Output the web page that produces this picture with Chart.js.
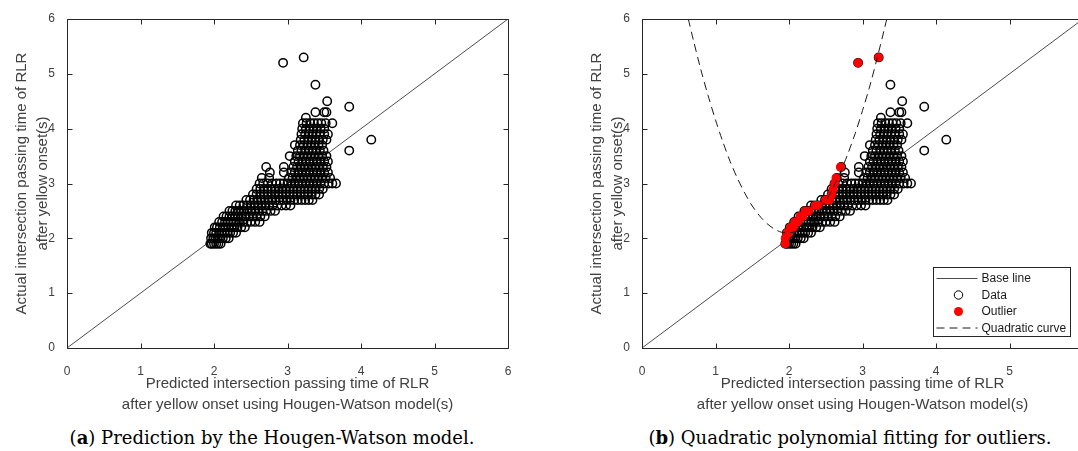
<!DOCTYPE html>
<html>
<head>
<meta charset="utf-8">
<script src="https://cdn.jsdelivr.net/npm/chart.js@4.4.0/dist/chart.umd.min.js"></script>
<style>
  html, body { margin: 0; padding: 0; background: #fff; }
  body { width: 1078px; height: 451px; position: relative; overflow: hidden; }
  .panel { position: absolute; top: 0; width: 540px; height: 420px; }
  .caption {
    position: absolute; top: 427px; line-height: 21px;
    font-family: 'DejaVu Serif', serif; font-size: 18px; color: #000;
    white-space: nowrap; transform: translateX(-50%);
  }
</style>
</head>
<body>
<div class="panel" style="left:0"><canvas id="chartA"></canvas></div>
<div class="panel" style="left:575px"><canvas id="chartB"></canvas></div>
<div class="caption" style="left:272px">(<b>a</b>) Prediction by the Hougen-Watson model.</div>
<div class="caption" style="left:850px">(<b>b</b>) Quadratic polynomial fitting for outliers.</div>
<script>
// observed (actual) passing times come in 0.1 s steps, one row per value
const rowY = [1.9, 2.0, 2.1, 2.2, 2.3, 2.4, 2.5, 2.6, 2.7, 2.8, 2.9, 3.0, 3.1, 3.2, 3.3,
              3.4, 3.5, 3.6, 3.7, 3.8, 3.9, 4.0, 4.1, 4.2, 4.3, 4.4, 4.5, 4.8, 5.2, 5.3];
// predicted times for each row
const rowX = [
  [1.95, 1.97, 2.0, 2.03, 2.06, 2.09],
  [1.96, 1.99, 2.02, 2.05, 2.08, 2.12, 2.16, 2.2],
  [1.97, 2.0, 2.03, 2.07, 2.1, 2.14, 2.18, 2.22, 2.26, 2.3],
  [2.01, 2.04, 2.08, 2.12, 2.16, 2.2, 2.24, 2.28, 2.32, 2.37, 2.42],
  [2.07, 2.11, 2.15, 2.19, 2.23, 2.27, 2.31, 2.35, 2.4, 2.45, 2.5, 2.56, 2.62],
  [2.13, 2.17, 2.21, 2.25, 2.29, 2.33, 2.38, 2.43, 2.48, 2.53, 2.58, 2.63, 2.69],
  [2.21, 2.25, 2.29, 2.33, 2.37, 2.41, 2.46, 2.51, 2.56, 2.61, 2.66, 2.71, 2.77, 2.83],
  [2.3, 2.35, 2.4, 2.45, 2.5, 2.55, 2.6, 2.65, 2.7, 2.75, 2.8, 2.86, 2.92, 2.98, 3.04],
  [2.44, 2.49, 2.54, 2.59, 2.64, 2.69, 2.74, 2.79, 2.84, 2.89, 2.94, 2.99, 3.04, 3.09, 3.14, 3.19, 3.24, 3.29, 3.34],
  [2.53, 2.58, 2.63, 2.68, 2.73, 2.78, 2.83, 2.88, 2.93, 2.98, 3.03, 3.08, 3.13, 3.18, 3.23, 3.28, 3.33, 3.38, 3.43],
  [2.58, 2.63, 2.68, 2.73, 2.78, 2.83, 2.88, 2.93, 2.98, 3.03, 3.08, 3.13, 3.18, 3.23, 3.28, 3.33, 3.38, 3.43, 3.48],
  [2.62, 2.67, 2.73, 2.79, 2.85, 2.9, 2.95, 3.0, 3.05, 3.1, 3.15, 3.2, 3.25, 3.3, 3.35, 3.4, 3.45, 3.5, 3.56, 3.61, 3.66],
  [2.65, 2.75, 3.02, 3.07, 3.12, 3.17, 3.22, 3.27, 3.32, 3.37, 3.42, 3.47, 3.52, 3.58],
  [2.76, 2.95, 3.05, 3.1, 3.15, 3.2, 3.25, 3.3, 3.35, 3.4, 3.45, 3.5, 3.55],
  [2.71, 2.95, 3.08, 3.13, 3.18, 3.23, 3.28, 3.33, 3.38, 3.43, 3.48, 3.53],
  [3.1, 3.15, 3.2, 3.25, 3.3, 3.35, 3.4, 3.45, 3.5, 3.55],
  [3.03, 3.12, 3.17, 3.22, 3.27, 3.32, 3.37, 3.42, 3.47, 3.53],
  [3.14, 3.19, 3.24, 3.29, 3.34, 3.39, 3.44, 3.49, 3.84],
  [3.1, 3.17, 3.22, 3.27, 3.32, 3.37, 3.42, 3.47],
  [3.18, 3.23, 3.28, 3.33, 3.38, 3.43, 3.48, 3.53, 4.14],
  [3.19, 3.24, 3.29, 3.34, 3.39, 3.44, 3.5, 3.55],
  [3.2, 3.25, 3.3, 3.35, 3.4, 3.45, 3.5],
  [3.21, 3.26, 3.31, 3.36, 3.41, 3.46, 3.52, 3.61],
  [3.25],
  [3.38, 3.5, 3.53],
  [3.84],
  [3.54],
  [3.38],
  [2.94],
  [3.22]
];

// outliers picked out in panel (b)
const outlierX = [1.95, 1.95, 1.97, 2.0, 2.02, 2.06, 2.08, 2.12, 2.15, 2.19, 2.22, 2.27,
                  2.36, 2.4, 2.5, 2.55, 2.58, 2.6, 2.62, 2.64, 2.7, 2.94, 3.22];
const outlierY = [1.9, 2.0, 2.1, 2.1, 2.2, 2.2, 2.3, 2.3, 2.4, 2.4, 2.5, 2.5,
                  2.6, 2.6, 2.7, 2.7, 2.8, 2.9, 3.0, 3.1, 3.3, 5.2, 5.3];

// quadratic curve
const curveX = [0.63, 0.7, 0.8, 0.9, 1.0, 1.1, 1.2, 1.3, 1.4, 1.5, 1.6, 1.7, 1.8, 1.9, 2.0,
                2.1, 2.2, 2.3, 2.4, 2.5, 2.6, 2.7, 2.8, 2.9, 3.0, 3.1, 3.2, 3.3, 3.33];
const curveY = [6.0, 5.61, 5.08, 4.6, 4.16, 3.76, 3.4, 3.09, 2.82, 2.59, 2.41, 2.27, 2.17, 2.11, 2.1,
                2.13, 2.2, 2.32, 2.48, 2.68, 2.92, 3.21, 3.54, 3.91, 4.33, 4.78, 5.29, 5.83, 6.0];

const baseX = [0, 6];
const baseY = [0, 6];
const axisTicks = [0, 1, 2, 3, 4, 5, 6];

const toPoints = (xs, ys) => xs.map((x, i) => ({ x: x, y: ys[i] }));
const dataPoints = rowY.flatMap((y, i) => rowX[i].map(x => ({ x: x, y: y })));

const sans = 'Liberation Sans, Arial, sans-serif';
const textGray = '#404040';

// box with inward ticks on all four sides, like a matlab axes
const framePlugin = {
    id: 'frame',
    afterDraw(chart) {
        const { ctx, chartArea: a, scales } = chart;
        const l = Math.round(a.left) + 0.5, r = Math.round(a.right) + 0.5;
        const t = Math.round(a.top) + 0.5, b = Math.round(a.bottom) + 0.5;
        ctx.save();
        ctx.strokeStyle = '#262626';
        ctx.lineWidth = 1;
        ctx.beginPath();
        ctx.rect(l, t, r - l, b - t);
        scales.x.ticks.forEach(tk => {
            const px = Math.round(scales.x.getPixelForValue(tk.value)) + 0.5;
            ctx.moveTo(px, b); ctx.lineTo(px, b - 5);
            ctx.moveTo(px, t); ctx.lineTo(px, t + 5);
        });
        scales.y.ticks.forEach(tk => {
            const py = Math.round(scales.y.getPixelForValue(tk.value)) + 0.5;
            ctx.moveTo(l, py); ctx.lineTo(l + 5, py);
            ctx.moveTo(r, py); ctx.lineTo(r - 5, py);
        });
        ctx.stroke();
        ctx.restore();
    }
};

// legend box in the lower right of panel (b)
const boxLegendPlugin = {
    id: 'boxLegend',
    afterDraw(chart) {
        const { ctx, chartArea: a } = chart;
        const left = Math.round(a.left) + 291.5, top = Math.round(a.top) + 248.5;
        const w = 137, h = 69;
        const rows = [11, 27.5, 44, 60.5];
        ctx.save();
        ctx.fillStyle = '#fff';
        ctx.fillRect(left, top, w, h);
        ctx.strokeStyle = '#262626';
        ctx.lineWidth = 1;
        ctx.strokeRect(left, top, w, h);
        ctx.font = '12px ' + sans;
        ctx.textBaseline = 'middle';
        chart.data.datasets.forEach((ds, i) => {
            const y = top + rows[i];
            ctx.setLineDash([]);
            if (ds.showLine) {
                ctx.strokeStyle = ds.borderColor;
                ctx.lineWidth = 1;
                ctx.setLineDash(ds.borderDash || []);
                ctx.beginPath();
                ctx.moveTo(left + 3, y);
                ctx.lineTo(left + 44, y);
                ctx.stroke();
            } else {
                ctx.beginPath();
                ctx.arc(left + 25, y, ds.pointRadius, 0, Math.PI * 2);
                ctx.fillStyle = ds.pointBackgroundColor;
                ctx.fill();
                if (ds.pointBorderWidth) {
                    ctx.strokeStyle = ds.pointBorderColor;
                    ctx.lineWidth = 1;
                    ctx.stroke();
                }
            }
            ctx.fillStyle = '#1a1a1a';
            ctx.fillText(ds.label, left + 48, y + 0.5);
        });
        ctx.restore();
    }
};

function baseLineDataset() {
    return {
        label: 'Base line',
        data: toPoints(baseX, baseY),
        showLine: true,
        borderColor: '#4d4d4d',
        borderWidth: 1,
        pointRadius: 0,
        order: 4
    };
}

function dataDataset() {
    return {
        label: 'Data',
        data: dataPoints,
        showLine: false,
        pointStyle: 'circle',
        pointRadius: 4.2,
        pointBorderWidth: 1.5,
        pointBackgroundColor: 'rgba(0,0,0,0)',
        pointBorderColor: '#000',
        order: 3
    };
}

function scaleOptions(titleLines, isX) {
    return {
        type: 'linear',
        min: 0,
        max: 6,
        afterBuildTicks: scale => { scale.ticks = axisTicks.map(v => ({ value: v })); },
        grid: { display: false },
        border: { display: false },
        ticks: {
            color: textGray,
            padding: isX ? 8 : 4,
            font: { family: sans, size: 12 }
        },
        title: {
            display: true,
            text: titleLines,
            color: textGray,
            font: { family: sans, size: 15, lineHeight: 1.4 },
            padding: isX ? { top: 0, bottom: 5 } : { top: 11.5, bottom: 0 }
        },
        afterFit: scale => {
            if (isX) scale.height = 72; else scale.width = 67;
        }
    };
}

function makeChart(id, datasets, plugins) {
    return new Chart(document.getElementById(id), {
        type: 'scatter',
        data: { datasets: datasets },
        options: {
            responsive: true,
            maintainAspectRatio: false,
            animation: false,
            events: [],
            layout: { padding: { left: 0, right: 32, top: 19, bottom: 0 } },
            plugins: { legend: { display: false }, tooltip: { enabled: false } },
            scales: {
                x: scaleOptions(['Predicted intersection passing time of RLR',
                                 'after yellow onset using Hougen-Watson model(s)'], true),
                y: scaleOptions(['Actual intersection passing time of RLR',
                                 'after yellow onset(s)'], false)
            }
        },
        plugins: plugins
    });
}

makeChart('chartA', [baseLineDataset(), dataDataset()], [framePlugin]);

makeChart('chartB', [
    baseLineDataset(),
    dataDataset(),
    {
        label: 'Outlier',
        data: toPoints(outlierX, outlierY),
        showLine: false,
        pointStyle: 'circle',
        pointRadius: 4.5,
        pointBorderWidth: 0,
        pointBackgroundColor: '#ff0000',
        pointBorderColor: '#ff0000',
        order: 2
    },
    {
        label: 'Quadratic curve',
        data: toPoints(curveX, curveY),
        showLine: true,
        borderColor: '#1a1a1a',
        borderWidth: 1,
        borderDash: [8, 5],
        tension: 0.3,
        pointRadius: 0,
        order: 1
    }
], [framePlugin, boxLegendPlugin]);
</script>
</body>
</html>
